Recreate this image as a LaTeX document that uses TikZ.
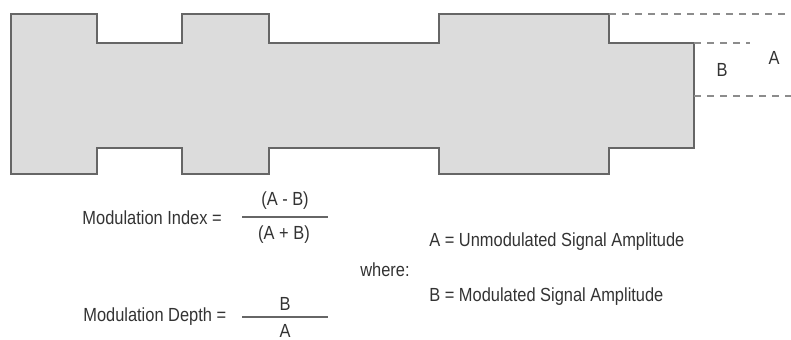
\documentclass[tikz,border=0pt]{standalone}
\usepackage{fontspec}
\setmainfont{Liberation Sans}[FakeStretch=0.865]
\definecolor{shapegray}{HTML}{DCDCDC}
\definecolor{edgegray}{HTML}{666666}
\definecolor{dashgray}{HTML}{8C8C8C}
\begin{document}
\begin{tikzpicture}[x=0.02cm, y=0.02cm, every node/.style={inner sep=0pt, font=\fontsize{10.8}{12}\selectfont, text=black!80}]
	\useasboundingbox (0,0) rectangle (791,340);
	% modulated signal envelope
	\begin{scope}
		\draw[fill=shapegray, draw=edgegray, line width=0.75pt] (11,326) -- (97,326) -- (97,297) -- (182,297) -- (182,326) -- (269,326) -- (269,297) -- (439,297) -- (439,326) -- (609,326) -- (609,297) -- (694,297) -- (694,192) -- (609,192) -- (609,166) -- (439,166) -- (439,192) -- (269,192) -- (269,166) -- (182,166) -- (182,192) -- (97,192) -- (97,166) -- (11,166) -- cycle;
		\draw[dashgray, line width=0.7pt, dash pattern=on 4pt off 3.4pt] (609,326) -- (791,326);
		\draw[dashgray, line width=0.7pt, dash pattern=on 4pt off 3.4pt] (694,297) -- (750,297);
		\draw[dashgray, line width=0.7pt, dash pattern=on 4pt off 3.4pt] (694,244) -- (791,244);
		\node (labB) at (722,270) {B};
		\node (labA) at (774,282) {A};
	\end{scope}
	
	% formulas
	\begin{scope}
		\node[anchor=east] (idx) at (222,122) {Modulation Index =};
		\draw[edgegray, line width=0.7pt] (242,123) -- (328,123);
		\node (idxnum) at (285,139) {(A - B)};
		\node (idxden) at (284,105) {(A + B)};
		\node[anchor=west] (dep) at (83,23) {Modulation Depth =};
		\draw[edgegray, line width=0.7pt] (242,23) -- (328,23);
		\node (depnum) at (285,36) {B};
		\node (depden) at (285,9) {A};
	\end{scope}
	
	% legend
	\begin{scope}
		\node[anchor=west] (where) at (360,70) {where:};
		\node[anchor=west] (defA) at (429,98) {A = Unmodulated Signal Amplitude};
		\node[anchor=west] (defB) at (429,43) {B = Modulated Signal Amplitude};
	\end{scope}
\end{tikzpicture}
\end{document}
